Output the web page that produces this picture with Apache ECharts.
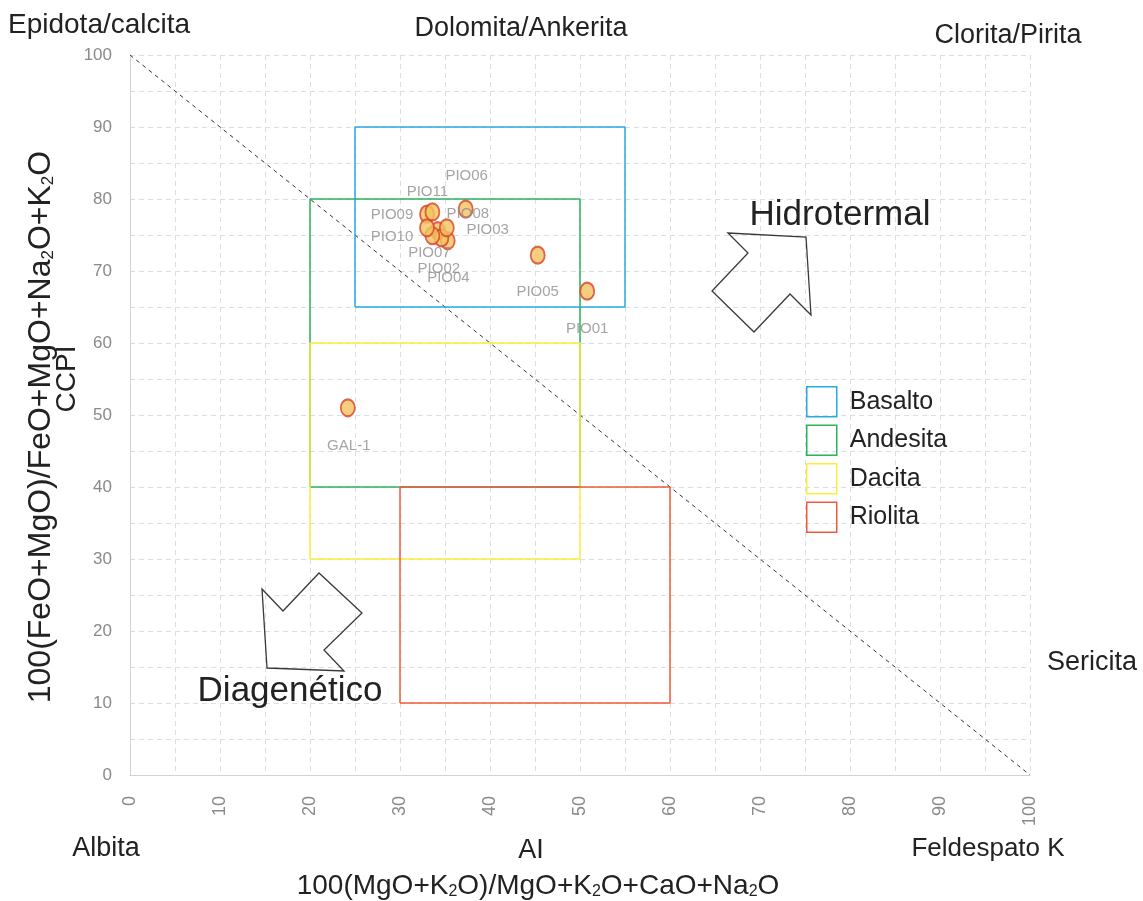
<!DOCTYPE html>
<html>
<head>
<meta charset="utf-8">
<script src="https://cdn.jsdelivr.net/npm/echarts@6/dist/echarts.min.js"></script>
<style>
  html, body { margin: 0; padding: 0; background: #ffffff; }
  #chart { width: 1143px; height: 901px; }
</style>
</head>
<body>
<div id="chart"></div>
<script>
// Alteration box plot: AI (Ishikawa) vs CCPI
const sampleNames = ['PIO01', 'PIO02', 'PIO03', 'PIO04', 'PIO05', 'PIO06', 'PIO07', 'PIO08', 'PIO09', 'PIO10', 'PIO11', 'GAL-1'];
const alValues    = [50.8, 34.2, 35.3, 34.6, 45.3, 37.3, 33.6, 35.2, 33.0, 33.0, 33.6, 24.2];
const ccpiValues  = [67.2, 75.6, 74.2, 74.6, 72.2, 78.6, 74.9, 76.0, 77.9, 76.0, 78.2, 51.0];

// Rock fields (AI range, CCPI range)
const boxNames = ['Basalto', 'Andesita', 'Dacita', 'Riolita'];
const boxAI    = [[25, 55], [20, 50], [20, 50], [30, 60]];
const boxCCPI  = [[65, 90], [40, 80], [30, 60], [10, 40]];
const boxColors = ['#27aae1', '#2bb35a', '#fbee3a', '#f05a3a'];

// Axis ticks
const axisMin = 0, axisMax = 100, gridStep = 5, labelStep = 10;

// Sample label placement (pixel offsets from the marker)
const labelOffsets = {
  'PIO01': [0, 38], 'PIO02': [1, 38], 'PIO03': [40, -11], 'PIO04': [7, 40],
  'PIO05': [0, 37], 'PIO06': [1, -33], 'PIO07': [-3, 17], 'PIO08': [21, -14],
  'PIO09': [-35, 1], 'PIO10': [-35, 9], 'PIO11': [-5, -20], 'GAL-1': [1, 38]
};

const FONT = "'Liberation Sans', Arial, sans-serif";
const TXT = '#222222';

const chart = echarts.init(document.getElementById('chart'));

const boxSeries = boxNames.map((name, i) => {
  const [x1, x2] = boxAI[i];
  const [y1, y2] = boxCCPI[i];
  return {
    name: name,
    type: 'line',
    data: [[x1, y1], [x2, y1], [x2, y2], [x1, y2], [x1, y1]],
    symbol: 'none',
    silent: true,
    z: 3,
    lineStyle: { color: boxColors[i], width: 1.5 },
    itemStyle: { color: boxColors[i] }
  };
});

function sideText(text, x, y, size, align) {
  return {
    type: 'text', x: x, y: y, silent: true, z: 20,
    style: { text: text, font: size + 'px ' + FONT, fill: TXT, align: align || 'center', verticalAlign: 'middle' }
  };
}

const option = {
  backgroundColor: '#ffffff',
  animation: false,
  grid: { left: 130, right: 113, top: 55, bottom: 126, containLabel: false },
  xAxis: {
    type: 'value', min: axisMin, max: axisMax, interval: gridStep,
    axisLine: { show: true, lineStyle: { color: '#cfd2d8', width: 1 } },
    axisTick: { show: false },
    axisLabel: {
      rotate: 90, margin: 21, color: '#8a8a8a', fontSize: 18, fontFamily: FONT,
      formatter: v => (v % labelStep === 0 ? String(v) : '')
    },
    splitLine: { show: true, lineStyle: { color: '#d9dee8', type: [5, 4], width: 1 } }
  },
  yAxis: {
    type: 'value', min: axisMin, max: axisMax, interval: gridStep,
    axisLine: { show: true, lineStyle: { color: '#cfd2d8', width: 1 } },
    axisTick: { show: false },
    axisLabel: {
      margin: 18, color: '#8a8a8a', fontSize: 17, fontFamily: FONT,
      formatter: v => (v % labelStep === 0 ? String(v) : '')
    },
    splitLine: { show: true, lineStyle: { color: '#d9dee8', type: [5, 4], width: 1 } }
  },
  legend: {
    orient: 'vertical', left: 806, top: 386, padding: 0,
    itemWidth: 30, itemHeight: 30, itemGap: 7, icon: 'rect',
    selectedMode: false,
    textStyle: { fontSize: 25, color: TXT, fontFamily: FONT, padding: [0, 0, 0, 8] },
    data: boxNames.map((n, i) => ({
      name: n,
      itemStyle: { color: 'rgba(255,255,255,0)', borderColor: boxColors[i], borderWidth: 1.5 }
    }))
  },
  series: [
    {
      name: 'diagonal', type: 'line', data: [[0, 100], [100, 0]],
      symbol: 'none', silent: true, z: 2,
      lineStyle: { color: '#333333', width: 1, type: [4, 4] }
    },
    ...boxSeries,
    {
      name: 'muestras', type: 'scatter', z: 6,
      symbol: 'circle', symbolSize: [14, 17],
      itemStyle: { color: '#f2c35f', borderColor: '#d8432c', borderWidth: 2 },
      label: {
        show: true, position: 'inside', formatter: '{b}',
        color: '#8d8d8d', fontSize: 15, fontFamily: FONT
      },
      data: sampleNames.map((n, i) => ({
        name: n,
        value: [alValues[i], ccpiValues[i]],
        label: { offset: labelOffsets[n] }
      }))
    }
  ],
  graphic: [
    sideText('Epidota/calcita', 8, 25, 28, 'left'),
    sideText('Dolomita/Ankerita', 521, 29, 27),
    sideText('Clorita/Pirita', 1008, 36, 27),
    sideText('Sericita', 1092, 663, 27),
    sideText('Albita', 106, 849, 27),
    sideText('AI', 531, 851, 27),
    sideText('Feldespato K', 988, 849, 26),
    sideText('Hidrotermal', 840, 215, 35),
    sideText('Diagenético', 290, 691, 35),
    {
      type: 'text', x: 538, y: 886, silent: true, z: 20,
      style: {
        text: '100(MgO+K{s|2}O)/MgO+K{s|2}O+CaO+Na{s|2}O',
        font: '28px ' + FONT, fill: TXT, align: 'center', verticalAlign: 'middle',
        rich: { s: { fontSize: 16, fontFamily: FONT, verticalAlign: 'bottom', fill: TXT } }
      }
    },
    {
      type: 'text', x: 41, y: 427, rotation: Math.PI / 2, silent: true, z: 20,
      style: {
        text: '100(FeO+MgO)/FeO+MgO+Na{s|2}O+K{s|2}O',
        font: '32px ' + FONT, fill: TXT, align: 'center', verticalAlign: 'middle',
        rich: { s: { fontSize: 17, fontFamily: FONT, verticalAlign: 'bottom', fill: TXT } }
      }
    },
    {
      type: 'text', x: 67, y: 379, rotation: Math.PI / 2, silent: true, z: 20,
      style: { text: 'CCPI', font: '28px ' + FONT, fill: TXT, align: 'center', verticalAlign: 'middle' }
    },
    // Hydrothermal trend arrow
    {
      type: 'polygon', silent: true, z: 15,
      shape: { points: [[728, 233], [806, 237], [811, 315], [790, 294], [754, 332], [712, 291], [748, 253]] },
      style: { fill: 'none', stroke: '#3a3a3a', lineWidth: 1.3 }
    },
    // Diagenetic trend arrow
    {
      type: 'polygon', silent: true, z: 15,
      shape: { points: [[262, 589], [283, 611], [319, 573], [362, 613], [324, 650], [344, 671], [267, 668]] },
      style: { fill: 'none', stroke: '#3a3a3a', lineWidth: 1.3 }
    }
  ]
};

chart.setOption(option);
</script>
</body>
</html>
